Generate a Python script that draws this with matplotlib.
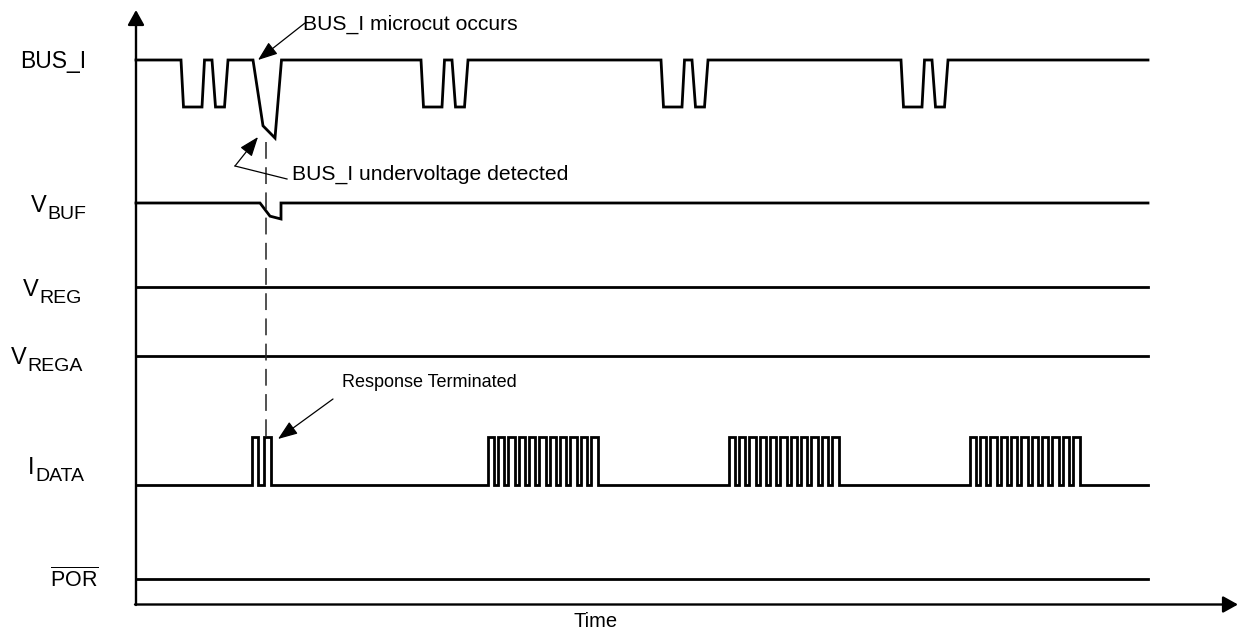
import matplotlib.pyplot as plt

plt.rcParams['font.family'] = ['Liberation Sans', 'DejaVu Sans']
plt.rcParams['mathtext.fontset'] = 'custom'
plt.rcParams['mathtext.rm'] = 'Liberation Sans'
plt.rcParams['mathtext.it'] = 'Liberation Sans:italic'
plt.rcParams['mathtext.bf'] = 'Liberation Sans:bold'

# ---- data (time in px units of the drawing, levels normalised: 1 = high, 0 = low)
label_main = ['BUS_I', 'V', 'V', 'V', 'I', r'$\overline{\rm POR}$']
label_sub = ['', 'BUF', 'REG', 'REGA', 'DATA', '']
t_start = 136
t_end = 1148

# BUS_I: double dips every group, plus the microcut
dip_groups = [181, 421, 661, 901]
dip_offsets = [0, 2.5, 21, 23.5, 31, 34.5, 43.5, 47]
dip_levels = [1, 0, 0, 1, 1, 0, 0, 1]
microcut_t = [253, 263, 275, 281.5]
microcut_v = [1, -0.40, -0.66, 1]

# V_BUF small sag caused by the microcut
vbuf_t = [260, 270, 281, 281]
vbuf_v = [0, -0.28, -0.34, 0]

# I_DATA: terminated response + full responses
ack_start = 251.5
ack_rise = [0, 12]
ack_fall = [6, 19]
resp_starts = [488, 729, 970]
resp_rise = [0, 10, 20, 31, 41, 51, 62, 72, 82, 93, 103]
resp_fall = [6, 16, 27, 37, 47, 58, 68, 78, 89, 99, 110]

microcut_time = 265.5

# ---- layout
row_low = [107, 203, 287, 356, 485, 579]
row_amp = [47, 47, 47, 47, 48, 47]
label_x = [20, 31, 23, 11, 28, 50]
label_base = [68, 212, 296, 364, 474, 587]
main_size = [16.5, 17, 17, 17, 17, 15.5]
sub_dx = [0, 16, 16, 16, 7, 0]

fig = plt.figure(figsize=(12.38, 6.35), dpi=100)
ax = fig.add_axes([0, 0, 1, 1])
ax.set_xlim(0, 1238)
ax.set_ylim(635, 0)
ax.axis('off')

lw_sig = 2.0


def lvl(row, v):
    return row_low[row] - v * row_amp[row]


# BUS_I
bx, bv = [t_start, dip_groups[0]], [1, 1]
for g in dip_groups:
    for o, l in zip(dip_offsets, dip_levels):
        bx.append(g + o)
        bv.append(l)
    if g == dip_groups[0]:
        bx += microcut_t
        bv += microcut_v
bx.append(t_end)
bv.append(1)
ax.plot(bx, [lvl(0, v) for v in bv], color='black', lw=lw_sig, solid_joinstyle='miter')

# V_BUF
vx = [t_start] + vbuf_t + [t_end]
vv = [0] + vbuf_v + [0]
ax.plot(vx, [lvl(1, v) for v in vv], color='black', lw=lw_sig, solid_joinstyle='miter')

# V_REG, V_REGA, POR flat
for r in (2, 3, 5):
    ax.plot([t_start, t_end], [lvl(r, 0)] * 2, color='black', lw=lw_sig)

# I_DATA
ix, iv = [t_start], [0]
for s, rises, falls in [(ack_start, ack_rise, ack_fall)] + [(s, resp_rise, resp_fall) for s in resp_starts]:
    for a, b in zip(rises, falls):
        ix += [s + a, s + a, s + b, s + b]
        iv += [0, 1, 1, 0]
ix.append(t_end)
iv.append(0)
ax.plot(ix, [lvl(4, v) for v in iv], color='black', lw=lw_sig, solid_joinstyle='miter')

# dashed marker
ax.plot([microcut_time, microcut_time], [142, lvl(4, 1)], color='#222222', lw=1.1,
        linestyle=(0, (11, 5.5)))

# axes with arrows
axis_arrow = dict(arrowstyle='-|>,head_length=0.9,head_width=0.5', mutation_scale=10,
                  lw=1.7, color='black', shrinkA=0, shrinkB=0)
ax.annotate('', xy=(t_start, 10), xytext=(t_start, 605), arrowprops=axis_arrow)
ax.annotate('', xy=(1238, 604.5), xytext=(t_start - 1, 604.5), arrowprops=axis_arrow)

# labels
for m, s, x, y, fs, dx in zip(label_main, label_sub, label_x, label_base, main_size, sub_dx):
    ax.text(x, y, m, fontsize=fs, ha='left', va='baseline')
    if s:
        ax.text(x + dx, y + 7, s, fontsize=14, ha='left', va='baseline')
ax.text(596, 627, 'Time', fontsize=14.5, ha='center', va='baseline')

# annotations
note_arrow = dict(arrowstyle='-|>,head_length=0.8,head_width=0.3', mutation_scale=15,
                  lw=0.9, color='black', shrinkA=0, shrinkB=0)
ax.text(303, 30, 'BUS_I microcut occurs', fontsize=15.2, ha='left', va='baseline')
ax.annotate('', xy=(258, 60), xytext=(305, 23), arrowprops=note_arrow)

ax.text(292, 180, 'BUS_I undervoltage detected', fontsize=15.2, ha='left', va='baseline')
ax.plot([287, 235], [179, 166], color='black', lw=0.9)
ax.annotate('', xy=(258, 137), xytext=(235, 166), arrowprops=note_arrow)

ax.text(342, 387, 'Response Terminated', fontsize=13, ha='left', va='baseline')
ax.annotate('', xy=(278, 439), xytext=(333, 399), arrowprops=note_arrow)

fig.savefig('out.png', dpi=100)
